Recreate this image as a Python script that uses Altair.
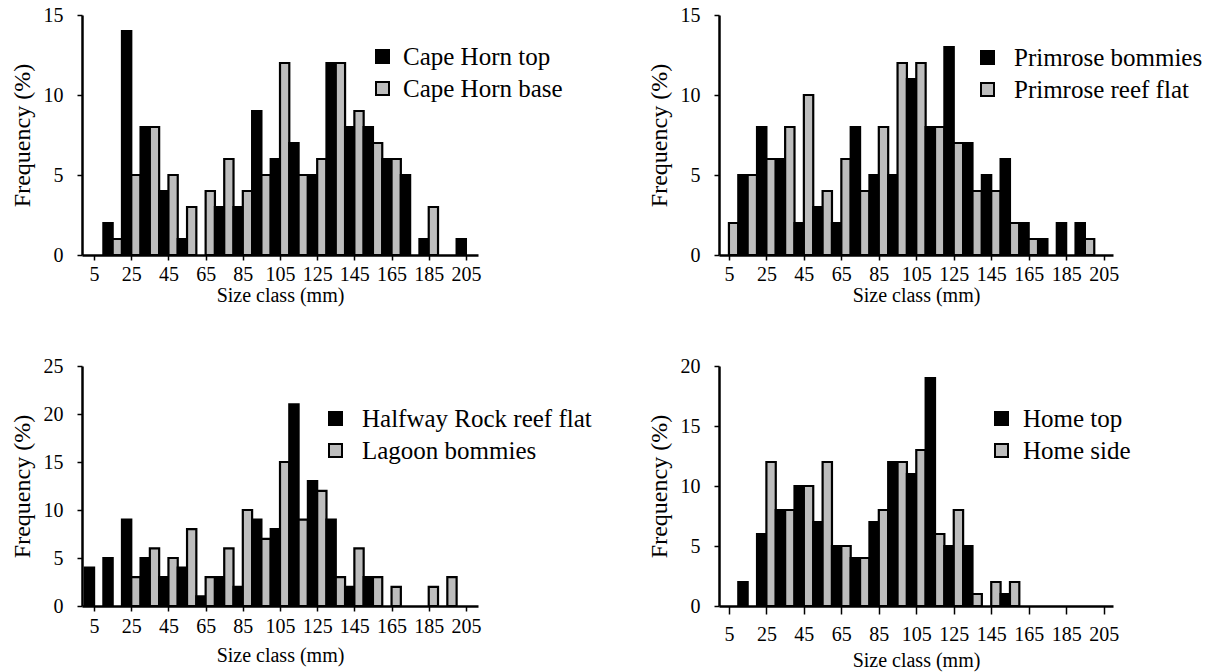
import altair as alt
import pandas as pd

# size classes (mm) and tick labels
sizes = [5, 15, 25, 35, 45, 55, 65, 75, 85, 95, 105, 115, 125, 135, 145, 155, 165, 175, 185, 195, 205]
x_ticks = [5, 25, 45, 65, 85, 105, 125, 145, 165, 185, 205]
y_ticks_15 = [0, 5, 10, 15]
y_ticks_20 = [0, 5, 10, 15, 20]
y_ticks_25 = [0, 5, 10, 15, 20, 25]

# frequencies (%) per size class
cape_top  = [0, 2, 14, 8, 4, 1, 0, 3, 3, 9, 6, 7, 5, 12, 8, 8, 6, 5, 1, 0, 1]
cape_base = [0, 1, 5, 8, 5, 3, 4, 6, 4, 5, 12, 5, 6, 12, 9, 7, 6, 0, 3, 0, 0]
prim_bom  = [0, 5, 8, 6, 2, 3, 2, 8, 5, 5, 11, 8, 13, 7, 5, 6, 2, 1, 2, 2, 0]
prim_flat = [2, 5, 6, 8, 10, 4, 6, 4, 8, 12, 12, 8, 7, 4, 4, 2, 1, 0, 0, 1, 0]
half_rock = [4, 5, 9, 5, 3, 4, 1, 3, 2, 9, 8, 21, 13, 9, 2, 3, 0, 0, 0, 0, 0]
lagoon    = [0, 0, 3, 6, 5, 8, 3, 6, 10, 7, 15, 9, 12, 3, 6, 3, 2, 0, 2, 3, 0]
home_top  = [0, 2, 6, 8, 10, 7, 5, 4, 7, 12, 11, 19, 5, 5, 0, 1, 0, 0, 0, 0, 0]
home_side = [0, 0, 12, 8, 10, 12, 5, 4, 8, 12, 13, 6, 8, 1, 2, 2, 0, 0, 0, 0, 0]

F = "Liberation Serif"
GREY = "#bdbdbd"


def panel(name_a, vals_a, name_b, vals_b, yticks, xdom, width, lx, ly, loff,
          xtick=5, xlpad=4, xtpad=1):
    rows = []
    for s, a, b in zip(sizes, vals_a, vals_b):
        rows.append({"size": s, "series": name_a, "value": a, "k": 0})
        rows.append({"size": s, "series": name_b, "value": b, "k": 1})
    df = pd.DataFrame(rows)
    return (
        alt.Chart(df)
        .transform_filter("datum.value > 0")
        .transform_calculate(
            x0="datum.size + (datum.k == 0 ? -5 : 0)",
            x1="datum.size + (datum.k == 0 ? 0 : 5)",
        )
        .mark_bar(stroke="black", strokeWidth=2.2)
        .encode(
            x=alt.X("x0:Q", scale=alt.Scale(domain=xdom, nice=False, zero=False),
                    axis=alt.Axis(values=x_ticks, title="Size class (mm)", tickSize=xtick,
                                  labelPadding=xlpad, titlePadding=xtpad)),
            x2="x1:Q",
            y=alt.Y("value:Q", scale=alt.Scale(domain=[yticks[0], yticks[-1]], nice=False),
                    axis=alt.Axis(values=yticks, title="Frequency (%)")),
            y2=alt.datum(0),
            fill=alt.Fill("series:N",
                          scale=alt.Scale(domain=[name_a, name_b], range=["black", GREY]),
                          legend=alt.Legend(orient="none", legendX=lx, legendY=ly, title=None,
                                            symbolType="square", symbolSize=169,
                                            symbolStrokeColor="black", symbolStrokeWidth=2,
                                            labelFont=F, labelFontSize=25, labelColor="black",
                                            labelLimit=400, rowPadding=6, labelOffset=loff)),
        )
        .properties(width=width, height=240)
    )


tl = panel("Cape Horn top", cape_top, "Cape Horn base", cape_base, y_ticks_15,
           [-1.5, 211.5], 396, 288, 29, 8)
tr = panel("Primrose bommies", prim_bom, "Primrose reef flat", prim_flat, y_ticks_15,
           [-0.3, 210], 394, 256, 30, 14)
bl = panel("Halfway Rock reef flat", half_rock, "Lagoon bommies", lagoon, y_ticks_25,
           [-1.5, 211.5], 396, 241, 40, 14, xtick=5, xlpad=5, xtpad=9)
br = panel("Home top", home_top, "Home side", home_side, y_ticks_20,
           [-0.3, 210], 394, 270, 40, 9, xtick=8, xlpad=10, xtpad=6)

chart = (
    alt.concat(tl, tr, bl, br, columns=2, spacing={"row": 111, "column": 241}, bounds="flush")
    .resolve_scale(x="independent", y="independent", fill="independent")
    .resolve_legend(fill="independent")
    .configure(padding={"left": 10, "top": 5, "right": 5, "bottom": 5}, font=F)
    .configure_axis(domainColor="black", domainWidth=2.5, tickColor="black", tickWidth=1.5,
                    tickSize=5, grid=False, labelFont=F, labelFontSize=20, labelColor="black",
                    titleFont=F, titleFontSize=20, titleFontWeight="normal", titleColor="black")
    .configure_axisY(labelPadding=14, titlePadding=9, titleFontSize=24)
    .configure_axisX(labelFlush=False, labelOverlap=False)
    .configure_view(stroke=None)
)

chart.save("out.html", embed_options={"renderer": "svg", "actions": False})
